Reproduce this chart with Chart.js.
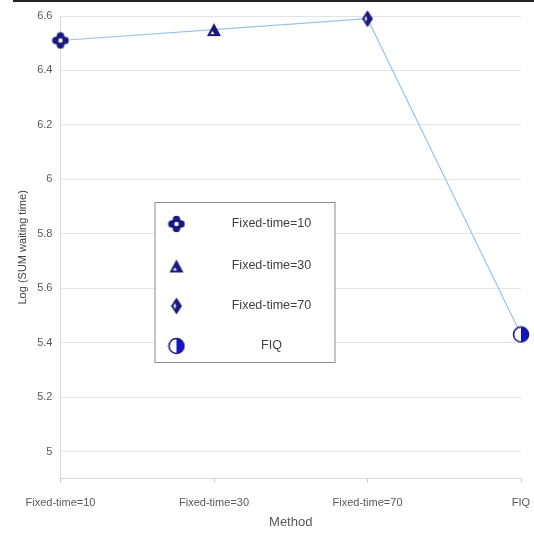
<!DOCTYPE html>
<html>
<head>
<meta charset="utf-8">
<script src="https://cdn.jsdelivr.net/npm/chart.js@4/dist/chart.umd.min.js"></script>
<style>
  html, body { margin: 0; padding: 0; background: #fff; }
  #wrap { width: 534px; height: 535px; }
</style>
</head>
<body>
<div id="wrap"><canvas id="c" width="534" height="535"></canvas></div>
<script>
// Methods compared and their log of summed waiting time
const methods = ['Fixed-time=10', 'Fixed-time=30', 'Fixed-time=70', 'FIQ'];
const logWaiting = [6.51, 6.55, 6.59, 5.43];
const yTicks = [5, 5.2, 5.4, 5.6, 5.8, 6, 6.2, 6.4, 6.6];

const NAVY = '#1a1a7e';
const BLUE = '#1414c8';

function makeCanvas(w, h, draw) {
  const cv = document.createElement('canvas');
  cv.width = w; cv.height = h;
  draw(cv.getContext('2d'), w, h);
  return cv;
}

// Thick plus sign with a hollow centre
const crossMark = makeCanvas(18, 18, (g) => {
  g.fillStyle = NAVY;
  g.beginPath();
  g.arc(9, 4.5, 3.8, 0, Math.PI * 2);
  g.arc(9, 13.5, 3.8, 0, Math.PI * 2);
  g.fill();
  g.beginPath();
  g.arc(4.5, 9, 3.8, 0, Math.PI * 2);
  g.arc(13.5, 9, 3.8, 0, Math.PI * 2);
  g.fill();
  g.fillRect(5, 5, 8, 8);
  g.fillStyle = '#fff';
  g.beginPath();
  g.arc(9, 9, 2.2, 0, Math.PI * 2);
  g.fill();
});

// Filled triangle with a small light core
const triMark = makeCanvas(16, 15, (g) => {
  g.fillStyle = NAVY;
  g.beginPath();
  g.moveTo(8, 1); g.lineTo(15, 14); g.lineTo(1, 14); g.closePath();
  g.fill();
  g.fillStyle = '#fff';
  g.beginPath();
  g.moveTo(6.5, 9); g.lineTo(8.5, 12); g.lineTo(4.5, 12); g.closePath();
  g.fill();
});

// Narrow upright diamond with a light sliver inside
const diamondMark = makeCanvas(12, 18, (g) => {
  g.fillStyle = NAVY;
  g.beginPath();
  g.moveTo(6, 0.5); g.lineTo(11.5, 9); g.lineTo(6, 17.5); g.lineTo(0.5, 9); g.closePath();
  g.fill();
  g.fillStyle = '#ffffff';
  g.beginPath();
  g.moveTo(4.5, 6); g.lineTo(5.5, 9); g.lineTo(4.5, 12); g.lineTo(3.2, 9); g.closePath();
  g.fill();
});

// Circle: left half white, right half blue
const halfMark = makeCanvas(18, 18, (g) => {
  g.fillStyle = '#fff';
  g.beginPath(); g.arc(9, 9, 7.5, Math.PI / 2, Math.PI * 1.5); g.fill();
  g.fillStyle = BLUE;
  g.beginPath(); g.arc(9, 9, 7.5, -Math.PI / 2, Math.PI / 2); g.fill();
  g.strokeStyle = NAVY;
  g.lineWidth = 1.6;
  g.beginPath(); g.arc(9, 9, 7.5, 0, Math.PI * 2); g.stroke();
});

const marks = [crossMark, triMark, diamondMark, halfMark];

// Boxed legend drawn inside the plot, one row per method
const boxLegend = {
  id: 'boxLegend',
  afterDraw(chart) {
    const ctx = chart.ctx;
    const a = chart.chartArea;
    const x0 = a.left + 94, y0 = a.top + 186, w = 180, h = 160;
    ctx.save();
    ctx.fillStyle = '#fff';
    ctx.fillRect(x0, y0, w, h);
    ctx.strokeStyle = '#8c8c8c';
    ctx.lineWidth = 1;
    ctx.strokeRect(x0 + 0.5, y0 + 0.5, w, h);
    ctx.font = '12.5px "Liberation Sans", Arial, sans-serif';
    ctx.fillStyle = '#404040';
    ctx.textAlign = 'center';
    ctx.textBaseline = 'middle';
    const rows = [22, 64, 104, 144];
    methods.forEach((m, i) => {
      const cy = y0 + rows[i];
      const mk = marks[i];
      ctx.drawImage(mk, x0 + 22 - mk.width / 2, cy - mk.height / 2);
      ctx.fillText(m, x0 + 117, cy);
    });
    ctx.restore();
  }
};

// Short tick marks under the category axis, plus a dark rule across the top edge
const axisExtras = {
  id: 'axisExtras',
  afterDraw(chart) {
    const ctx = chart.ctx;
    const xs = chart.scales.x;
    ctx.save();
    ctx.strokeStyle = '#d0d0d0';
    ctx.lineWidth = 1;
    xs.ticks.forEach((t, i) => {
      const px = Math.round(xs.getPixelForTick(i)) + 0.5;
      ctx.beginPath();
      ctx.moveTo(px, xs.top);
      ctx.lineTo(px, xs.top + 4);
      ctx.stroke();
    });
    ctx.fillStyle = '#222';
    ctx.fillRect(13, 0, chart.width - 13, 2);
    ctx.restore();
  }
};

new Chart(document.getElementById('c'), {
  type: 'line',
  data: {
    labels: methods,
    datasets: [{
      label: 'Log (SUM waiting time)',
      data: logWaiting,
      borderColor: '#9cc3e6',
      borderWidth: 1.2,
      tension: 0,
      pointStyle: marks,
      pointRadius: 8,
      pointHoverRadius: 8,
      clip: false
    }]
  },
  options: {
    responsive: false,
    animation: false,
    events: [],
    layout: { padding: { top: 16, right: 13, left: 16, bottom: 0 } },
    plugins: { legend: { display: false }, tooltip: { enabled: false } },
    scales: {
      x: {
        type: 'category',
        offset: false,
        afterFit(scale) { scale.paddingRight = 0; },
        grid: { display: false, drawTicks: true, tickLength: 14 },
        border: { color: '#d9d9d9' },
        ticks: {
          color: '#595959',
          font: { family: '"Liberation Sans", Arial, sans-serif', size: 11 },
          maxRotation: 0, autoSkip: false, padding: 4
        },
        title: {
          display: true, text: 'Method', color: '#595959',
          font: { family: '"Liberation Sans", Arial, sans-serif', size: 13 },
          padding: { top: 0.5, bottom: 5 }
        }
      },
      y: {
        min: 4.9,
        max: 6.6,
        afterBuildTicks(scale) {
          scale.ticks = yTicks.map(v => ({ value: v }));
        },
        grid: { color: '#e4e4e4', drawTicks: false },
        border: { color: '#d9d9d9' },
        ticks: {
          color: '#595959',
          padding: 8,
          font: { family: '"Liberation Sans", Arial, sans-serif', size: 11 },
          callback: (v) => String(Math.round(v * 10) / 10)
        },
        title: {
          display: true, text: 'Log (SUM waiting time)', color: '#404040',
          font: { family: '"Liberation Sans", Arial, sans-serif', size: 11 },
          padding: { top: 0, bottom: 0 }
        }
      }
    }
  },
  plugins: [boxLegend, axisExtras]
});
</script>
</body>
</html>
